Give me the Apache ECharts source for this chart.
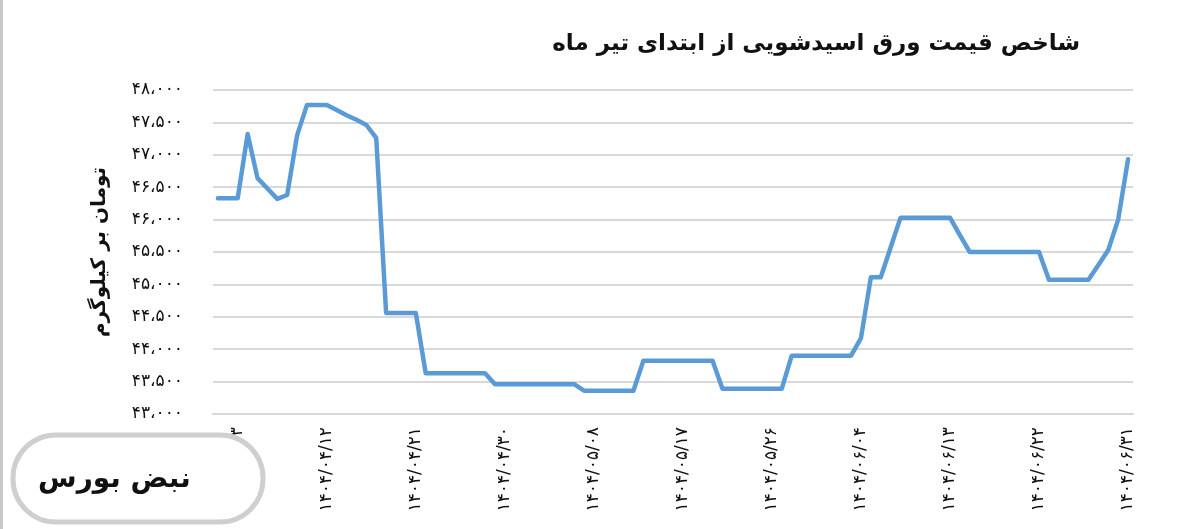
<!DOCTYPE html>
<html>
<head>
<meta charset="utf-8">
<script src="https://cdn.jsdelivr.net/npm/echarts@6/dist/echarts.min.js"></script>
<style>
html,body{margin:0;padding:0;background:#fff;}
#c{width:1200px;height:529px;}
</style>
</head>
<body>
<div id="c"></div>
<script>
// Categories: every day from 1404/04/01 to 1404/06/31
const categories = [
'1404/04/01','1404/04/02','1404/04/03','1404/04/04','1404/04/05','1404/04/06','1404/04/07','1404/04/08','1404/04/09','1404/04/10',
'1404/04/11','1404/04/12','1404/04/13','1404/04/14','1404/04/15','1404/04/16','1404/04/17','1404/04/18','1404/04/19','1404/04/20',
'1404/04/21','1404/04/22','1404/04/23','1404/04/24','1404/04/25','1404/04/26','1404/04/27','1404/04/28','1404/04/29','1404/04/30','1404/04/31',
'1404/05/01','1404/05/02','1404/05/03','1404/05/04','1404/05/05','1404/05/06','1404/05/07','1404/05/08','1404/05/09','1404/05/10',
'1404/05/11','1404/05/12','1404/05/13','1404/05/14','1404/05/15','1404/05/16','1404/05/17','1404/05/18','1404/05/19','1404/05/20',
'1404/05/21','1404/05/22','1404/05/23','1404/05/24','1404/05/25','1404/05/26','1404/05/27','1404/05/28','1404/05/29','1404/05/30','1404/05/31',
'1404/06/01','1404/06/02','1404/06/03','1404/06/04','1404/06/05','1404/06/06','1404/06/07','1404/06/08','1404/06/09','1404/06/10',
'1404/06/11','1404/06/12','1404/06/13','1404/06/14','1404/06/15','1404/06/16','1404/06/17','1404/06/18','1404/06/19','1404/06/20',
'1404/06/21','1404/06/22','1404/06/23','1404/06/24','1404/06/25','1404/06/26','1404/06/27','1404/06/28','1404/06/29','1404/06/30','1404/06/31'
];

// Price index (Toman per kg)
const priceValues = [
46330,46330,46330,47320,46640,46480,46320,46380,47300,47770,
47770,47770,47690,47610,47540,47460,47260,44560,44560,44560,
44560,43630,43630,43630,43630,43630,43630,43630,43460,43460,43460,
43460,43460,43460,43460,43460,43460,43360,43360,43360,43360,
43360,43360,43820,43820,43820,43820,43820,43820,43820,43820,
43390,43390,43390,43390,43390,43390,43390,43900,43900,43900,43900,
43900,43900,43900,44170,45110,45110,45570,46030,46030,46030,
46030,46030,46030,45760,45500,45500,45500,45500,45500,45500,
45500,45500,45070,45070,45070,45070,45070,45300,45530,46000,46930
];

const yTicks = { min: 43000, max: 48000, step: 500 };
const titleText = 'شاخص قیمت ورق اسیدشویی از ابتدای تیر ماه';
const yAxisTitle = 'تومان بر کیلوگرم';
const logoText = 'نبض بورس';

const faDigits = '۰۱۲۳۴۵۶۷۸۹';
function toFa(s){ return String(s).replace(/\d/g, d => faDigits[d]); }
function fmtNum(v){
  const s = String(Math.round(v)).replace(/\B(?=(\d{3})+(?!\d))/g, '،');
  return toFa(s);
}

const FONT = "'DejaVu Sans', 'Noto Sans', sans-serif";
const chart = echarts.init(document.getElementById('c'), null, {renderer:'canvas'});
chart.setOption({
  backgroundColor: '#ffffff',
  animation: false,
  title: {
    text: titleText,
    right: 115,
    top: 28,
    textStyle: { fontFamily: FONT, fontSize: 23, fontWeight: 'bold', color: '#111' }
  },
  grid: { left: 213, right: 67, top: 90, bottom: 115, containLabel: false },
  xAxis: {
    type: 'category',
    data: categories,
    boundaryGap: true,
    axisLine: { show: true, lineStyle: { color: '#d9d9d9', width: 2 } },
    axisTick: { show: false },
    axisLabel: {
      interval: (idx) => (idx - 2) % 9 === 0,
      rotate: 90,
      margin: 13,
      fontFamily: FONT,
      fontSize: 17,
      color: '#111',
      formatter: (v) => toFa(v)
    },
    splitLine: { show: false }
  },
  yAxis: {
    type: 'value',
    min: yTicks.min,
    max: yTicks.max,
    interval: yTicks.step,
    name: yAxisTitle,
    nameLocation: 'middle',
    nameRotate: 90,
    nameGap: 103,
    nameTextStyle: { fontFamily: FONT, fontSize: 20, fontWeight: 'bold', color: '#111' },
    axisLine: { show: false },
    axisTick: { show: false },
    axisLabel: {
      margin: 30,
      fontFamily: FONT,
      fontSize: 17,
      color: '#111',
      formatter: (v) => fmtNum(v)
    },
    splitLine: { show: true, lineStyle: { color: '#d9d9d9', width: 2 } }
  },
  series: [{
    type: 'line',
    data: priceValues,
    symbol: 'none',
    smooth: false,
    lineStyle: { color: '#5b9bd5', width: 4.5, cap: 'round', join: 'round' },
    z: 3
  }],
  graphic: [
    { type: 'line', shape: { x1: 1.5, y1: 0, x2: 1.5, y2: 529 }, style: { stroke: '#c8c8c8', lineWidth: 3 }, silent: true },
    { type: 'rect', shape: { x: 13, y: 435, width: 250, height: 87, r: 43 },
      style: { fill: '#ffffff', stroke: '#cfcfcf', lineWidth: 5 }, z: 10 },
    { type: 'text', left: 38, top: 466,
      style: { text: logoText, fontFamily: FONT, fontSize: 28, fontWeight: 'bold', fill: '#111' }, z: 11 }
  ]
});
</script>
</body>
</html>
